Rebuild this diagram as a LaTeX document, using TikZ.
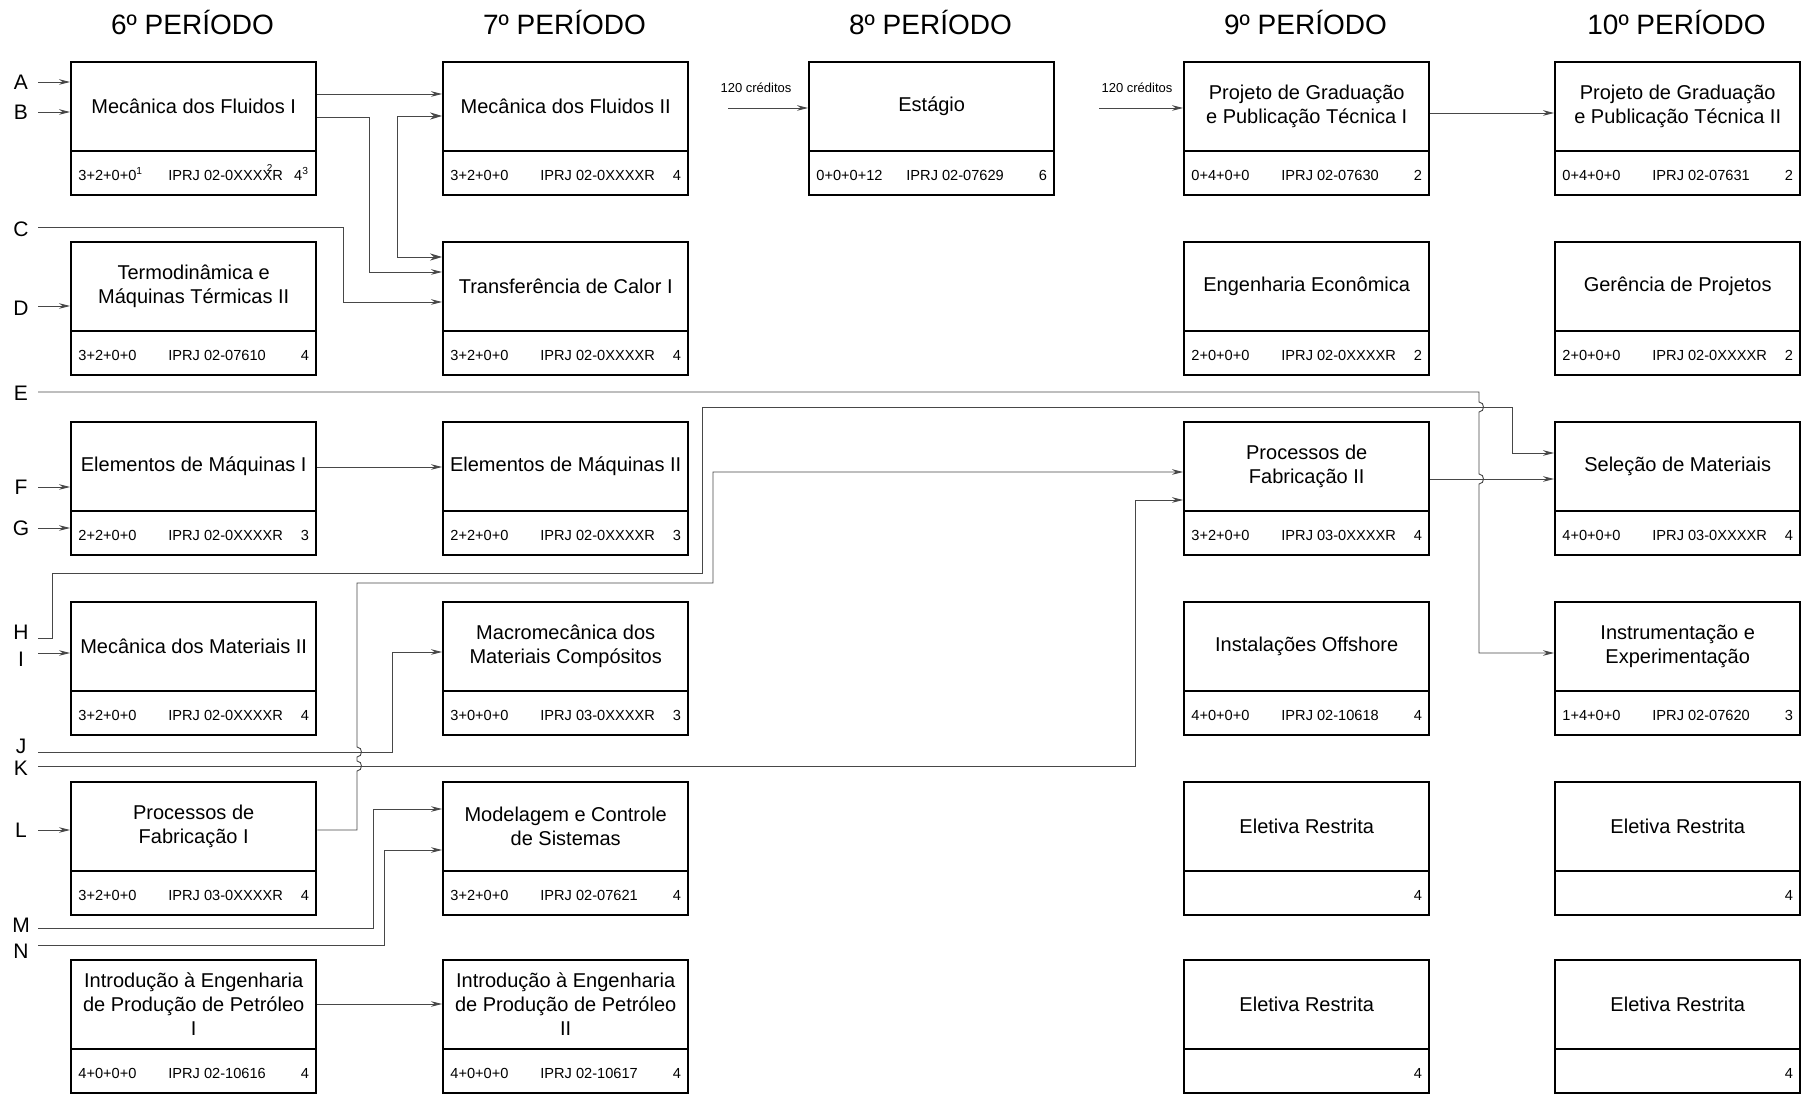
\documentclass[tikz,border=0pt]{standalone}
\usepackage{fontspec}
\setmainfont{Liberation Sans}
\usetikzlibrary{arrows.meta,calc}

\tikzset{
  cbox/.style={draw, line width=1.2pt, minimum width=122.5pt, minimum height=66.5pt,
    inner sep=0pt, anchor=north west},
  divline/.style={line width=1.2pt},
  ttl/.style={align=center, font=\fontsize{10}{12}\selectfont, inner sep=0pt},
  info/.style={font=\fontsize{7.3}{8}\selectfont, inner sep=0pt},
  hdr/.style={font=\fontsize{14}{16}\selectfont, inner sep=0pt},
  lbl/.style={font=\fontsize{10.5}{12}\selectfont, inner sep=0pt},
  note/.style={font=\fontsize{6.5}{8}\selectfont, inner sep=0pt},
  wire/.style={draw=black!72, line width=0.45pt},
  arr/.style={wire, -{Stealth[length=5.5pt,width=2.8pt]}},
  coreq/.style={wire, {Stealth[length=6pt,width=3.6pt]}-{Stealth[length=6pt,width=3.6pt]}},
}

% one course block: name, x, y, title, hours, code, credits
\newcommand\disc[7]{%
  \node[cbox] (#1) at (#2,#3) {};
  \draw[divline] ([yshift=-45pt]#1.north west) -- ([yshift=-45pt]#1.north east);
  \node[ttl] (#1t) at ([yshift=-22.5pt]#1.north) {#4};
  \node[info, anchor=base west] (#1h) at ([xshift=4pt,yshift=8pt]#1.south west) {#5};
  \node[info, anchor=base west] (#1k) at ([xshift=49pt,yshift=8pt]#1.south west) {#6};
  \node[info, anchor=base east] (#1n) at ([xshift=-4pt,yshift=8pt]#1.south east) {#7};
}

\begin{document}
\begin{tikzpicture}[x=0.5pt, y=-0.5pt]
\useasboundingbox (0,0) rectangle (1809,1095);

% period headings
\node[hdr] (h6)  at (192.5,23)  {6º PERÍODO};
\node[hdr] (h7)  at (564.5,23)  {7º PERÍODO};
\node[hdr] (h8)  at (930.5,23)  {8º PERÍODO};
\node[hdr] (h9)  at (1305.5,23) {9º PERÍODO};
\node[hdr] (h10) at (1676.5,23) {10º PERÍODO};

% 6th period
\disc{mfa}{70}{61}{Mecânica dos Fluidos I}{3+2+0+0\textsuperscript{1}}
  {IPRJ 02-0XXX\rlap{\hspace{0.3em}\raisebox{0.6em}{\fontsize{5}{5}\selectfont 2}}XR}{4\textsuperscript{3}}
\disc{tma}{70}{241}{Termodinâmica e\\Máquinas Térmicas II}{3+2+0+0}{IPRJ 02-07610}{4}
\disc{ema}{70}{421}{Elementos de Máquinas I}{2+2+0+0}{IPRJ 02-0XXXXR}{3}
\disc{mma}{70}{601}{Mecânica dos Materiais II}{3+2+0+0}{IPRJ 02-0XXXXR}{4}
\disc{pfa}{70}{781}{Processos de\\Fabricação I}{3+2+0+0}{IPRJ 03-0XXXXR}{4}
\disc{ipa}{70}{959}{Introdução à Engenharia\\de Produção de Petróleo\\I}{4+0+0+0}{IPRJ 02-10616}{4}

% 7th period
\disc{mfb}{442}{61}{Mecânica dos Fluidos II}{3+2+0+0}{IPRJ 02-0XXXXR}{4}
\disc{tcb}{442}{241}{Transferência de Calor I}{3+2+0+0}{IPRJ 02-0XXXXR}{4}
\disc{emb}{442}{421}{Elementos de Máquinas II}{2+2+0+0}{IPRJ 02-0XXXXR}{3}
\disc{mcb}{442}{601}{Macromecânica dos\\Materiais Compósitos}{3+0+0+0}{IPRJ 03-0XXXXR}{3}
\disc{mdb}{442}{781}{Modelagem e Controle\\de Sistemas}{3+2+0+0}{IPRJ 02-07621}{4}
\disc{ipb}{442}{959}{Introdução à Engenharia\\de Produção de Petróleo\\II}{4+0+0+0}{IPRJ 02-10617}{4}

% 8th period
\disc{est}{808}{61}{Estágio}{0+0+0+12}{IPRJ 02-07629}{6}

% 9th period
\disc{pgc}{1183}{61}{Projeto de Graduação\\e Publicação Técnica I}{0+4+0+0}{IPRJ 02-07630}{2}
\disc{eec}{1183}{241}{Engenharia Econômica}{2+0+0+0}{IPRJ 02-0XXXXR}{2}
\disc{pfc}{1183}{421}{Processos de\\Fabricação II}{3+2+0+0}{IPRJ 03-0XXXXR}{4}
\disc{ioc}{1183}{601}{Instalações Offshore}{4+0+0+0}{IPRJ 02-10618}{4}
\disc{erc}{1183}{781}{Eletiva Restrita}{}{}{4}
\disc{erd}{1183}{959}{Eletiva Restrita}{}{}{4}

% 10th period
\disc{pge}{1554}{61}{Projeto de Graduação\\e Publicação Técnica II}{0+4+0+0}{IPRJ 02-07631}{2}
\disc{gpe}{1554}{241}{Gerência de Projetos}{2+0+0+0}{IPRJ 02-0XXXXR}{2}
\disc{sme}{1554}{421}{Seleção de Materiais}{4+0+0+0}{IPRJ 03-0XXXXR}{4}
\disc{iee}{1554}{601}{Instrumentação e\\Experimentação}{1+4+0+0}{IPRJ 02-07620}{3}
\disc{ere}{1554}{781}{Eletiva Restrita}{}{}{4}
\disc{erf}{1554}{959}{Eletiva Restrita}{}{}{4}

% incoming prerequisite letters
\node[lbl] (A) at (21,82)  {A};
\node[lbl] (B) at (21,112) {B};
\node[lbl] (C) at (21,229) {C};
\node[lbl] (D) at (21,308) {D};
\node[lbl] (E) at (21,393) {E};
\node[lbl] (F) at (21,487) {F};
\node[lbl] (G) at (21,528) {G};
\node[lbl] (H) at (21,632) {H};
\node[lbl] (I) at (21,659) {I};
\node[lbl] (J) at (21,746) {J};
\node[lbl] (K) at (21,768) {K};
\node[lbl] (L) at (21,830) {L};
\node[lbl] (M) at (21,925) {M};
\node[lbl] (N) at (21,951) {N};

\coordinate (sA) at (38,82);
\coordinate (sB) at (38,112);
\coordinate (sC) at (38,227);
\coordinate (sD) at (38,306);
\coordinate (sE) at (38,392);
\coordinate (sF) at (38,487);
\coordinate (sG) at (38,528);
\coordinate (sH) at (38,638);
\coordinate (sI) at (38,653);
\coordinate (sJ) at (38,752);
\coordinate (sK) at (38,766);
\coordinate (sL) at (38,830);
\coordinate (sM) at (38,928);
\coordinate (sN) at (38,945);

% levels of the horizontal runs
\foreach \v in {94,113,116,117,257,272,302,453,467,472,479,500,652,653,809,850,1004}
  \coordinate (y\v) at (0,\v);

% short entries
\draw[arr] (sA) -- (sA -| mfa.west);
\draw[arr] (sB) -- (sB -| mfa.west);
\draw[arr] (sD) -- (sD -| tma.west);
\draw[arr] (sF) -- (sF -| ema.west);
\draw[arr] (sG) -- (sG -| ema.west);
\draw[arr] (sI) -- (sI -| mma.west);
\draw[arr] (sL) -- (sL -| pfa.west);

% chains between periods
\draw[arr] (mfa.east |- y94) -- (mfb.west |- y94);
\draw[arr] (ema.east |- y467) -- (emb.west |- y467);
\draw[arr] (ipa.east |- y1004) -- (ipb.west |- y1004);
\draw[arr] (pgc.east |- y113) -- (pge.west |- y113);
\draw[arr] (mfa.east |- y117) -- (369,117) -- (369,272) -- (tcb.west |- y272);
\draw[coreq] (mfb.west |- y116) -- (397,116) -- (397,257) -- (tcb.west |- y257);
\draw[arr] (sC) -- (343,227) -- (343,302) -- (tcb.west |- y302);

% credit requirements
\coordinate (q8) at (728,108);
\coordinate (q9) at (1099,108);
\node[note] (n8) at (756,88)  {120 créditos};
\node[note] (n9) at (1137,88) {120 créditos};
\draw[arr] (q8) -- (q8 -| est.west);
\draw[arr] (q9) -- (q9 -| pgc.west);

% long prerequisite runs
\draw[arr] (sE) -- (1479,392) -- (1479,402)
  .. controls (1485,402) and (1485,412) .. (1479,412) -- (1479,474)
  .. controls (1485,474) and (1485,484) .. (1479,484) -- (1479,653)
  -- (iee.west |- y653);
\draw[arr] (sH) -- (52,638) -- (52,573) -- (702,573) -- (702,407)
  -- (1512,407) -- (1512,453) -- (sme.west |- y453);
\draw[arr] (pfc.east |- y479) -- (sme.west |- y479);
\draw[arr] (pfa.east |- sL) -- (357,830) -- (357,771)
  .. controls (363,771) and (363,761) .. (357,761) -- (357,757)
  .. controls (363,757) and (363,747) .. (357,747) -- (357,583)
  -- (713,583) -- (713,472) -- (pfc.west |- y472);
\draw[arr] (sJ) -- (392,752) -- (392,652) -- (mcb.west |- y652);
\draw[arr] (sK) -- (1135,766) -- (1135,500) -- (pfc.west |- y500);
\draw[arr] (sM) -- (373,928) -- (373,809) -- (mdb.west |- y809);
\draw[arr] (sN) -- (384,945) -- (384,850) -- (mdb.west |- y850);

\end{tikzpicture}
\end{document}
